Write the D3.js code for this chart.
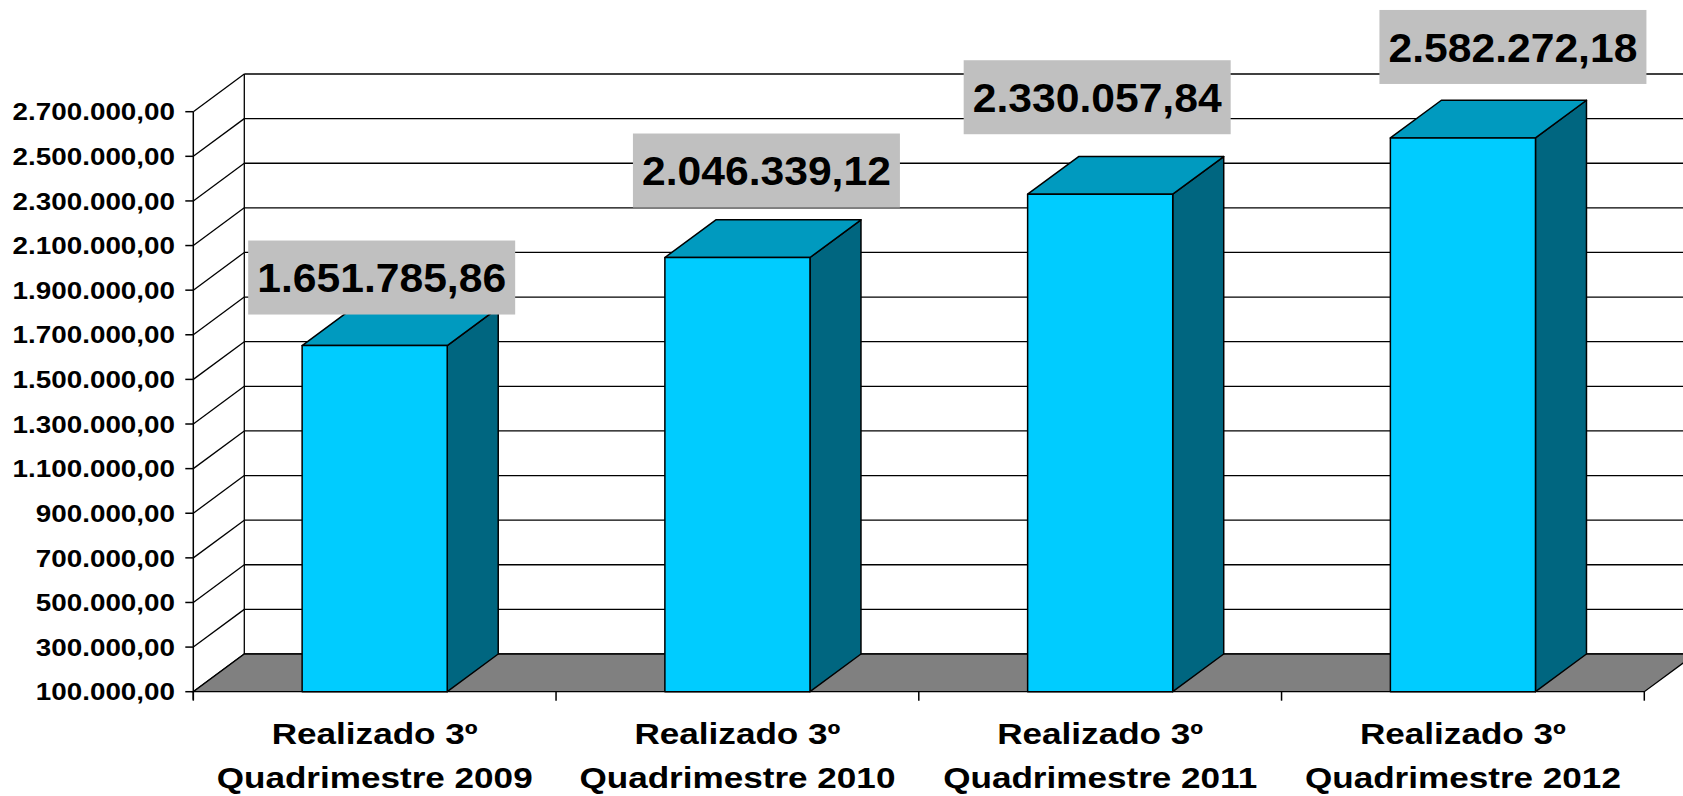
<!DOCTYPE html>
<html>
<head>
<meta charset="utf-8">
<script src="https://cdn.jsdelivr.net/npm/d3@7"></script>
<style>
  html, body { margin: 0; padding: 0; background: #fff; }
  svg { display: block; }
  text { font-family: "Liberation Sans", Arial, sans-serif; font-weight: bold; fill: #000; }
</style>
</head>
<body>
<svg id="chart" width="1683" height="796"></svg>
<script>
// Receita realizada no 3º quadrimestre, por ano
const categories = ["Realizado 3º|Quadrimestre 2009", "Realizado 3º|Quadrimestre 2010",
                    "Realizado 3º|Quadrimestre 2011", "Realizado 3º|Quadrimestre 2012"];
const values = [1651785.86, 2046339.12, 2330057.84, 2582272.18];
const yTicks = [100000, 300000, 500000, 700000, 900000, 1100000, 1300000, 1500000,
                1700000, 1900000, 2100000, 2300000, 2500000, 2700000];

// placement of each value box relative to the top-front edge of its bar
const labelNudge = [[7, -68], [29, -87], [-3, -97], [50, -91]];

const W = 1683, H = 796;
const plot = { left: 193.3, right: 1644.3, top: 111.7, bottom: 691.7 };
const depth = { dx: 51, dy: -37.7 };

const colors = {
  front: "#00CCFF", top: "#009ABF", side: "#006680",
  floor: "#808080", labelBox: "#C0C0C0", line: "#000"
};

const br = d3.formatLocale({ decimal: ",", thousands: ".", grouping: [3], currency: ["R$", ""] });
const fmt = br.format(",.2f");

const svg = d3.select("#chart");
svg.append("rect").attr("width", W).attr("height", H).attr("fill", "#fff");

const y = d3.scaleLinear().domain([yTicks[0], yTicks[yTicks.length - 1]]).range([plot.bottom, plot.top]);
const x = d3.scaleBand().domain(categories).range([plot.left, plot.right])
  .paddingInner(0.6).paddingOuter(0.3);

const g = svg.append("g");
const pt = (a, b) => a + "," + b;
const bx = x(categories[0]) - x.step() * x.paddingOuter(); // front-left corner x
const xRightEnd = plot.right;

// back wall and side wall gridlines
const walls = g.append("g").attr("stroke", colors.line).attr("stroke-width", 1.3).attr("fill", "none");
yTicks.forEach(v => {
  const yf = y(v);
  walls.append("line")
    .attr("x1", plot.left).attr("y1", yf)
    .attr("x2", plot.left + depth.dx).attr("y2", yf + depth.dy);
  walls.append("line")
    .attr("x1", plot.left + depth.dx).attr("y1", yf + depth.dy)
    .attr("x2", xRightEnd + depth.dx).attr("y2", yf + depth.dy);
});
walls.append("line")
  .attr("x1", plot.left + depth.dx).attr("y1", y(yTicks[0]) + depth.dy)
  .attr("x2", plot.left + depth.dx).attr("y2", y(yTicks[yTicks.length - 1]) + depth.dy);

// floor
const yb = y(yTicks[0]);
g.append("polygon")
  .attr("points", [pt(plot.left, yb), pt(xRightEnd, yb),
                   pt(xRightEnd + depth.dx, yb + depth.dy), pt(plot.left + depth.dx, yb + depth.dy)].join(" "))
  .attr("fill", colors.floor).attr("stroke", colors.line).attr("stroke-width", 1.3);

// front vertical axis with ticks
const axisG = g.append("g").attr("stroke", colors.line).attr("stroke-width", 1.5);
axisG.append("line").attr("x1", plot.left).attr("x2", plot.left)
  .attr("y1", y(yTicks[yTicks.length - 1])).attr("y2", yb + 8);
yTicks.forEach(v => {
  axisG.append("line").attr("x1", plot.left - 8).attr("x2", plot.left).attr("y1", y(v)).attr("y2", y(v));
});
// category boundaries on the front edge
d3.range(categories.length + 1).forEach(i => {
  const xx = bx + i * x.step();
  axisG.append("line").attr("x1", xx).attr("x2", xx).attr("y1", yb).attr("y2", yb + 9);
});

// y tick labels
const tickLabels = svg.append("g");
yTicks.forEach(v => {
  tickLabels.append("g")
    .attr("transform", `translate(175,${y(v)}) scale(1.15,1)`)
    .append("text")
    .attr("text-anchor", "end").attr("dy", "0.36em")
    .style("font-size", "24.2px")
    .text(fmt(v));
});

// 3D bars
const bars = svg.append("g").attr("stroke", colors.line).attr("stroke-width", 1.5).attr("stroke-linejoin", "round");
categories.forEach((c, i) => {
  const x0 = x(c), x1 = x0 + x.bandwidth();
  const yt = y(values[i]);
  const bar = bars.append("g");
  bar.append("polygon")
    .attr("points", [pt(x1, yb), pt(x1 + depth.dx, yb + depth.dy), pt(x1 + depth.dx, yt + depth.dy), pt(x1, yt)].join(" "))
    .attr("fill", colors.side);
  bar.append("polygon")
    .attr("points", [pt(x0, yt), pt(x1, yt), pt(x1 + depth.dx, yt + depth.dy), pt(x0 + depth.dx, yt + depth.dy)].join(" "))
    .attr("fill", colors.top);
  bar.append("rect")
    .attr("x", x0).attr("y", yt).attr("width", x1 - x0).attr("height", yb - yt)
    .attr("fill", colors.front);
});

// value labels
const labels = svg.append("g");
categories.forEach((c, i) => {
  const cx = x(c) + x.bandwidth() / 2 + labelNudge[i][0];
  const cy = y(values[i]) + labelNudge[i][1];
  const boxW = 267, boxH = 74;
  labels.append("rect")
    .attr("x", cx - boxW / 2).attr("y", cy - boxH / 2)
    .attr("width", boxW).attr("height", boxH)
    .attr("fill", colors.labelBox);
  labels.append("g")
    .attr("transform", `translate(${cx},${cy}) scale(1.04,1)`)
    .append("text")
    .attr("text-anchor", "middle").attr("dy", "0.36em")
    .style("font-size", "41px")
    .text(fmt(values[i]));
});

// category labels
const catLabels = svg.append("g");
categories.forEach(c => {
  const cx = x(c) + x.bandwidth() / 2;
  c.split("|").forEach((line, j) => {
    catLabels.append("g")
      .attr("transform", `translate(${cx},${744 + j * 44.3}) scale(1.19,1)`)
      .append("text")
      .attr("text-anchor", "middle")
      .style("font-size", "29.5px")
      .text(line);
  });
});
</script>
</body>
</html>
